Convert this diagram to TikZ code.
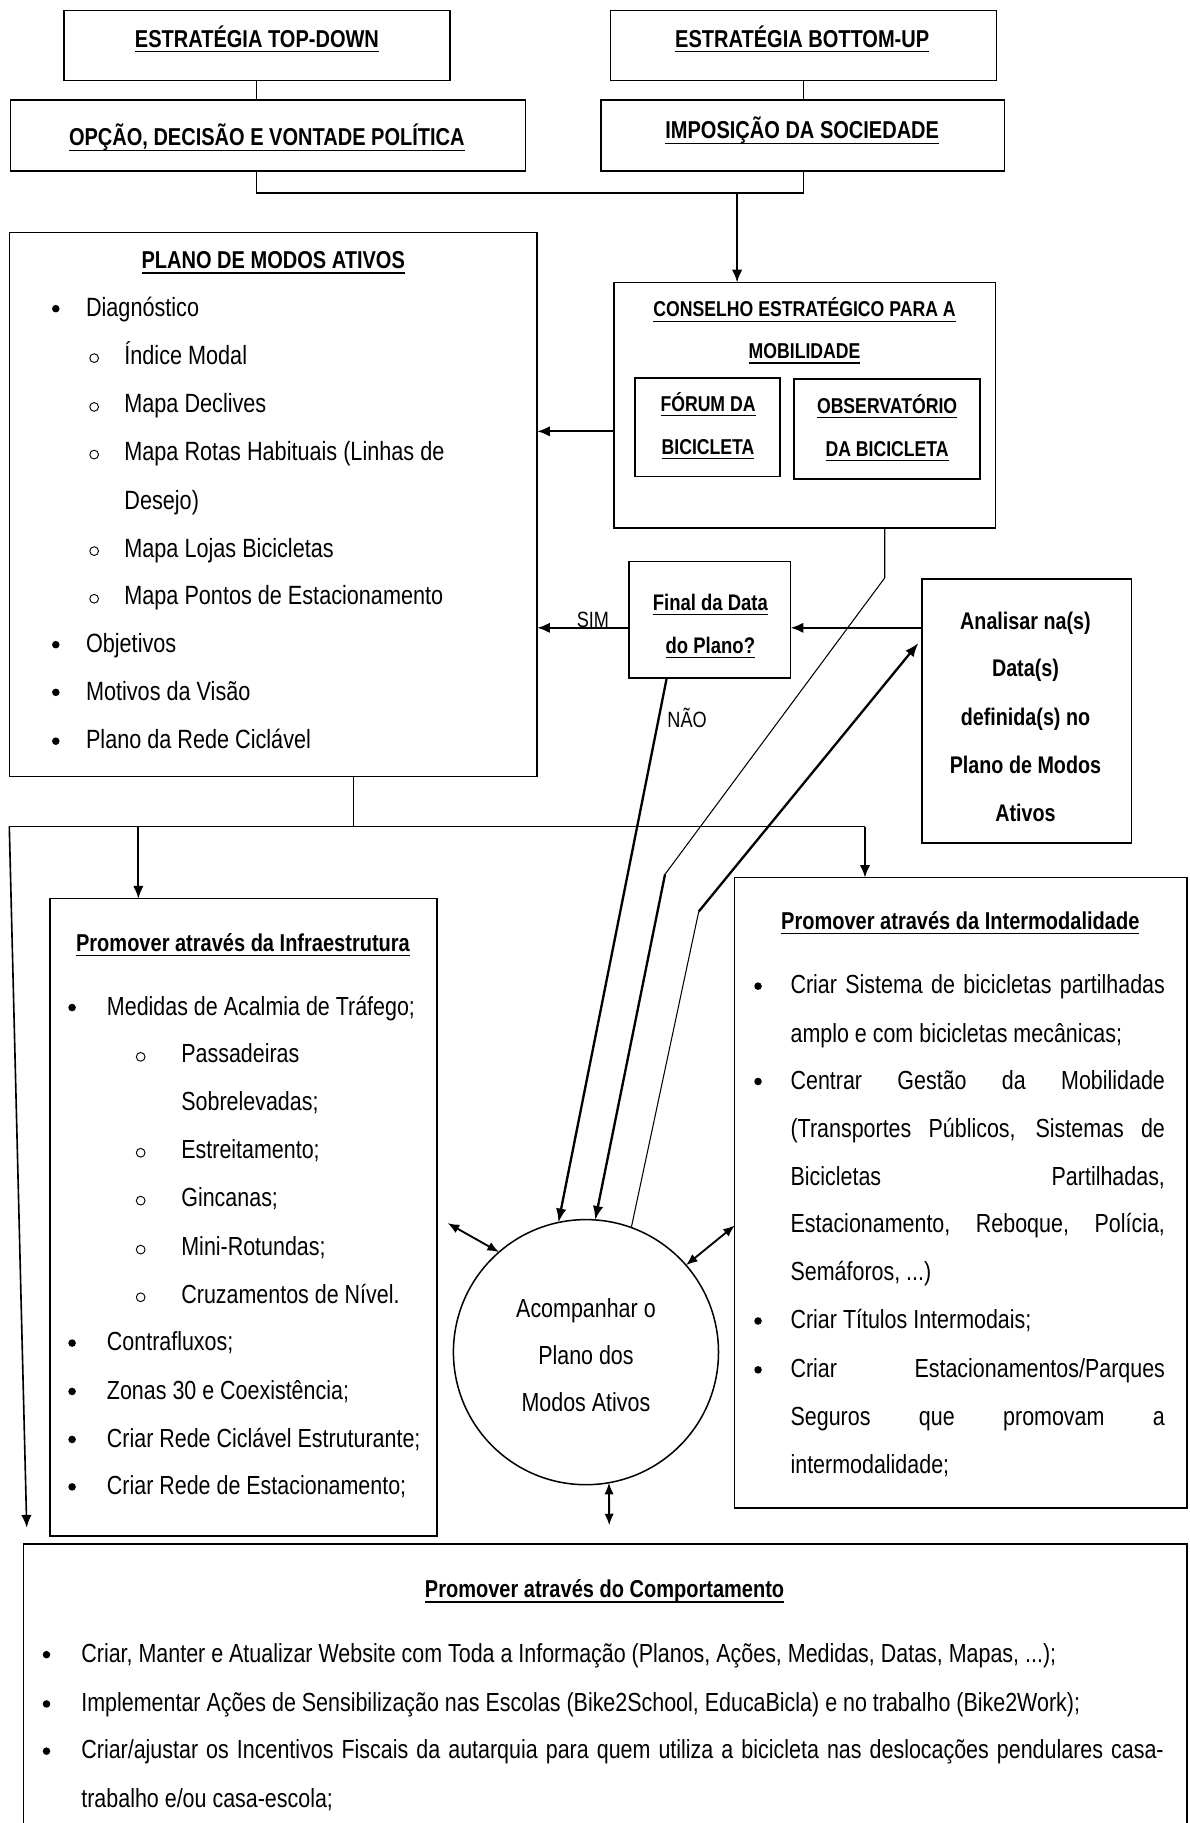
\documentclass[tikz,border=0pt]{standalone}
\usepackage{fontspec}
\setmainfont{Liberation Sans}
\newfontfamily\narrowfont[FakeStretch=0.82]{Liberation Sans}
\usetikzlibrary{arrows.meta,calc}
\newcommand\ulx[1]{\setbox0\hbox{#1}\rlap{\rule[-4.3pt]{\wd0}{1.2pt}}\box0}
\newcommand\fHd{\narrowfont\bfseries\fontsize{21}{21}\selectfont}
\newcommand\fBd{\narrowfont\fontsize{22.5}{22.5}\selectfont}
\newcommand\fCs{\narrowfont\bfseries\fontsize{18.5}{18.5}\selectfont}
\newcommand\fFn{\narrowfont\bfseries\fontsize{19.4}{19.4}\selectfont}
\newcommand\fAn{\narrowfont\bfseries\fontsize{20.7}{20.7}\selectfont}
\newcommand\fSm{\narrowfont\fontsize{19}{19}\selectfont}
\newcommand\fPl{\narrowfont\fontsize{22.7}{22.7}\selectfont}
\tikzset{
 bx/.style={draw, line width=1.2pt, inner sep=0pt, outer sep=0pt, rectangle},
 tl/.style={inner sep=0pt, outer sep=0pt, anchor=base west},
 tc/.style={inner sep=0pt, outer sep=0pt, anchor=base},
 bul/.style={circle, fill, inner sep=0pt, outer sep=0pt, minimum size=6.5pt},
 sbul/.style={circle, draw, line width=0.8pt, inner sep=0pt, outer sep=0pt, minimum size=7.5pt},
 ln/.style={line width=0.9pt},
 ar/.style={line width=1.8pt, -{Latex[length=11pt,width=9pt]}},
 tk/.style={line width=2pt, -{Latex[length=12pt,width=9pt]}},
 da/.style={line width=1.6pt, {Latex[length=10pt,width=8pt]}-{Latex[length=10pt,width=8pt]}},
}
\begin{document}
\begin{tikzpicture}[x=1pt,y=-1pt]
\useasboundingbox (0,0) rectangle (1023,1568);
\clip (0,0) rectangle (1023,1568);
\fill[white] (0,0) rectangle (1023,1568);
% boxes
\node[bx, minimum width=332pt, minimum height=60pt] (td) at (221,39) {};
\node[bx, minimum width=332pt, minimum height=60pt] (bu) at (691,39) {};
\node[bx, minimum width=443pt, minimum height=61pt] (op) at (230.5,116.5) {};
\node[bx, minimum width=347pt, minimum height=61pt] (im) at (690.5,116.5) {};
\node[bx, minimum width=454pt, minimum height=468pt] (pl) at (235,434) {};
\node[bx, minimum width=328pt, minimum height=211pt] (cons) at (692,348.5) {};
\node[bx, minimum width=125pt, minimum height=85pt] (forum) at (608.5,367.5) {};
\node[bx, minimum width=160pt, minimum height=86pt] (obs) at (763,369) {};
\node[bx, minimum width=139pt, minimum height=100pt] (fin) at (610.5,533) {};
\node[bx, minimum width=180pt, minimum height=227pt] (anal) at (883,611.5) {};
\node[bx, minimum width=333pt, minimum height=548pt] (infra) at (209.5,1047) {};
\node[bx, minimum width=389pt, minimum height=542pt] (inter) at (826.5,1026) {};
\node[bx, minimum width=1001pt, minimum height=282pt] (comp) at (520.5,1469) {};
\node[draw, circle, line width=1.3pt, minimum size=228pt, inner sep=0pt, outer sep=0pt] (circ) at (504,1163) {};
% top texts
\node[tc, font=\fHd] (tdT) at (221,40.5) {\ulx{ESTRATÉGIA TOP-DOWN}};
\node[tc, font=\fHd] (buT) at (690,40.5) {\ulx{ESTRATÉGIA BOTTOM-UP}};
\node[tc, font=\fHd] (opT) at (229.5,125.5) {\ulx{OPÇÃO, DECISÃO E VONTADE POLÍTICA}};
\node[tc, font=\fHd] (imT) at (690,119.5) {\ulx{IMPOSIÇÃO DA SOCIEDADE}};
% plano
\node[tc, font=\fHd] (plT) at (235,231) {\ulx{PLANO DE MODOS ATIVOS}};
\node[bul] (plb1) at (48,265.5) {};
\node[tl, font=\fPl] (pl1) at (74,272.1) {Diagnóstico};
\node[sbul] (plo2) at (81,308) {};
\node[tl, font=\fPl] (pl2) at (107,313.1) {Índice Modal};
\node[sbul] (plo3) at (81,350) {};
\node[tl, font=\fPl] (pl3) at (107,355.1) {Mapa Declives};
\node[sbul] (plo4) at (81,391) {};
\node[tl, font=\fPl] (pl4) at (107,396.1) {Mapa Rotas Habituais (Linhas de};
\node[tl, font=\fPl] (pl5) at (107,438.1) {Desejo)};
\node[sbul] (plo6) at (81,474) {};
\node[tl, font=\fPl] (pl6) at (107,479.1) {Mapa Lojas Bicicletas};
\node[sbul] (plo7) at (81,515) {};
\node[tl, font=\fPl] (pl7) at (107,520.1) {Mapa Pontos de Estacionamento};
\node[bul] (plb8) at (48,554.5) {};
\node[tl, font=\fPl] (pl8) at (74,561.1) {Objetivos};
\node[bul] (plb9) at (48,595.5) {};
\node[tl, font=\fPl] (pl9) at (74,602.1) {Motivos da Visão};
\node[bul] (plb10) at (48,637.5) {};
\node[tl, font=\fPl] (pl10) at (74,644.1) {Plano da Rede Ciclável};
% conselho
\node[tc, font=\fCs] (csT1) at (692,272.6) {\ulx{CONSELHO ESTRATÉGICO PARA A}};
\node[tc, font=\fCs] (csT2) at (692,308.6) {\ulx{MOBILIDADE}};
\node[tc, font=\fCs] (fo1) at (609,353.6) {\ulx{FÓRUM DA}};
\node[tc, font=\fCs] (fo2) at (609,390.6) {\ulx{BICICLETA}};
\node[tc, font=\fCs] (ob1) at (763,355.6) {\ulx{OBSERVATÓRIO}};
\node[tc, font=\fCs] (ob2) at (763,392.6) {\ulx{DA BICICLETA}};
% final
\node[tc, font=\fFn] (fi1) at (611,524.8) {\ulx{Final da Data}};
\node[tc, font=\fFn] (fi2) at (611,561.8) {\ulx{do Plano?}};
% analisar
\node[tc, font=\fAn] (an1) at (882,541.2) {Analisar na(s)};
\node[tc, font=\fAn] (an2) at (882,582.2) {Data(s)};
\node[tc, font=\fAn] (an3) at (882,624.2) {definida(s) no};
\node[tc, font=\fAn] (an4) at (882,665.2) {Plano de Modos};
\node[tc, font=\fAn] (an5) at (882,706.2) {Ativos};
% infra
\node[tc, font=\fHd] (inT) at (209,818) {\ulx{Promover através da Infraestrutura}};
\node[bul] (inb1) at (62,866.6) {};
\node[tl, font=\fBd] (in1) at (92,873.2) {Medidas de Acalmia de Tráfego;};
\node[sbul] (ino2) at (121,909) {};
\node[tl, font=\fBd] (in2) at (156,914) {Passadeiras};
\node[tl, font=\fBd] (in3) at (156,955.2) {Sobrelevadas;};
\node[sbul] (ino4) at (121,991.5) {};
\node[tl, font=\fBd] (in4) at (156,996.5) {Estreitamento;};
\node[sbul] (ino5) at (121,1032.7) {};
\node[tl, font=\fBd] (in5) at (156,1037.7) {Gincanas;};
\node[sbul] (ino6) at (121,1074.8) {};
\node[tl, font=\fBd] (in6) at (156,1079.8) {Mini-Rotundas;};
\node[sbul] (ino7) at (121,1115.8) {};
\node[tl, font=\fBd] (in7) at (156,1120.8) {Cruzamentos de Nível.};
\node[bul] (inb8) at (62,1155.2) {};
\node[tl, font=\fBd] (in8) at (92,1161.8) {Contrafluxos;};
\node[bul] (inb9) at (62,1196.8) {};
\node[tl, font=\fBd] (in9) at (92,1203.4) {Zonas 30 e Coexistência;};
\node[bul] (inb10) at (62,1238.1) {};
\node[tl, font=\fBd] (in10) at (92,1244.7) {Criar Rede Ciclável Estruturante;};
\node[bul] (inb11) at (62,1278.9) {};
\node[tl, font=\fBd] (in11) at (92,1285.5) {Criar Rede de Estacionamento;};
% intermodalidade
\node[tc, font=\fHd] (imdT) at (826,799.3) {\ulx{Promover através da Intermodalidade}};
\node[bul] (imb1) at (652,848.2) {};
\node[tl, font=\fBd] (imd1) at (680,854.8) {\makebox[322pt][s]{Criar Sistema de bicicletas partilhadas}};
\node[tl, font=\fBd] (imd2) at (680,896.5) {amplo e com bicicletas mecânicas;};
\node[bul] (imb3) at (652,930.2) {};
\node[tl, font=\fBd] (imd3) at (680,936.8) {\makebox[322pt][s]{Centrar Gestão da Mobilidade}};
\node[tl, font=\fBd] (imd4) at (680,978.5) {\makebox[322pt][s]{(Transportes Públicos, Sistemas de}};
\node[tl, font=\fBd] (imd5) at (680,1019.8) {\makebox[322pt][s]{Bicicletas Partilhadas,}};
\node[tl, font=\fBd] (imd6) at (680,1060.5) {\makebox[322pt][s]{Estacionamento, Reboque, Polícia,}};
\node[tl, font=\fBd] (imd7) at (680,1101.8) {Semáforos, ...)};
\node[bul] (imb8) at (652,1136.2) {};
\node[tl, font=\fBd] (imd8) at (680,1142.8) {Criar Títulos Intermodais;};
\node[bul] (imb9) at (652,1178.2) {};
\node[tl, font=\fBd] (imd9) at (680,1184.8) {\makebox[322pt][s]{Criar Estacionamentos/Parques}};
\node[tl, font=\fBd] (imd10) at (680,1226.3) {\makebox[322pt][s]{Seguros que promovam a}};
\node[tl, font=\fBd] (imd11) at (680,1267.8) {intermodalidade;};
% circle text
\node[tc, font=\fBd] (ci1) at (504,1132.8) {Acompanhar o};
\node[tc, font=\fBd] (ci2) at (504,1173.8) {Plano dos};
\node[tc, font=\fBd] (ci3) at (504,1213.8) {Modos Ativos};
% comportamento
\node[tc, font=\fHd] (coT) at (520,1374.3) {\ulx{Promover através do Comportamento}};
\node[bul] (cob1) at (40,1423.2) {};
\node[tl, font=\fBd] (co1) at (70,1429.8) {Criar, Manter e Atualizar Website com Toda a Informação (Planos, Ações, Medidas, Datas, Mapas, ...);};
\node[bul] (cob2) at (40,1465.6) {};
\node[tl, font=\fBd] (co2) at (70,1472.2) {Implementar Ações de Sensibilização nas Escolas (Bike2School, EducaBicla) e no trabalho (Bike2Work);};
\node[bul] (cob3) at (40,1506.2) {};
\node[tl, font=\fBd] (co3) at (70,1512.8) {\makebox[931pt][s]{Criar/ajustar os Incentivos Fiscais da autarquia para quem utiliza a bicicleta nas deslocações pendulares casa-}};
\node[tl, font=\fBd] (co4) at (70,1554.8) {trabalho e/ou casa-escola;};
% labels
\node[tc, font=\fSm] (sim) at (510,539.8) {SIM};
\node[tc, font=\fSm] (nao) at (591,625.8) {NÃO};
% connectors
\coordinate (jn) at (634,166);
\coordinate (ya) at (0,371);
\coordinate (ysim) at (0,540);
\coordinate (fb) at (573.5,0);
\coordinate (c1) at (761,497);
\coordinate (b1) at (572,752);
\coordinate (b2) at (601,784);
\coordinate (atip) at ($(anal.north west)+(-3,55)$);
\coordinate (dj) at (304,711);
\coordinate (dl) at (8,711);
\coordinate (dr) at (744,711);
\coordinate (d1) at (119,711);
\coordinate (lt) at (23,1314);
\coordinate (e1) at (385,1052);
\coordinate (e2) at (632,1054);
\coordinate (e3) at (524,1312);
\draw[ln] (td.south) -- (td.south |- op.north);
\draw[ln] (bu.south) -- (bu.south |- im.north);
\draw[ln] (op.south -| td.south) -- (td.south |- jn) -- (bu.south |- jn) -- (im.south -| bu.south);
\draw[ar] (jn) -- (cons.north -| jn);
\draw[ar] (cons.west |- ya) -- (pl.east |- ya);
\draw[ar] (fin.west |- ysim) -- (pl.east |- ysim);
\draw[ar] (anal.west |- ysim) -- (fin.east |- ysim);
\draw[tk] (fin.south -| fb) -- (circ.102.6);
\draw[ln] (cons.south -| c1) -- (c1) -- (b1);
\draw[tk] (b1) -- (circ.86.5);
\draw[ln] (circ.70.8) -- (b2);
\draw[tk] (b2) -- (atip);
\draw[ln] (pl.south -| dj) -- (dj);
\draw[ln] (dl) -- (dr);
\draw[ar] (d1) -- (infra.north -| d1);
\draw[ar] (dr) -- (inter.north -| dr);
\draw[ar, line width=1.4pt] (dl) -- (lt);
\draw[da] (e1) -- (circ.131);
\draw[da] (e2) -- (circ.41.2);
\draw[da] (circ.-80) -- (e3);
\end{tikzpicture}
\end{document}
